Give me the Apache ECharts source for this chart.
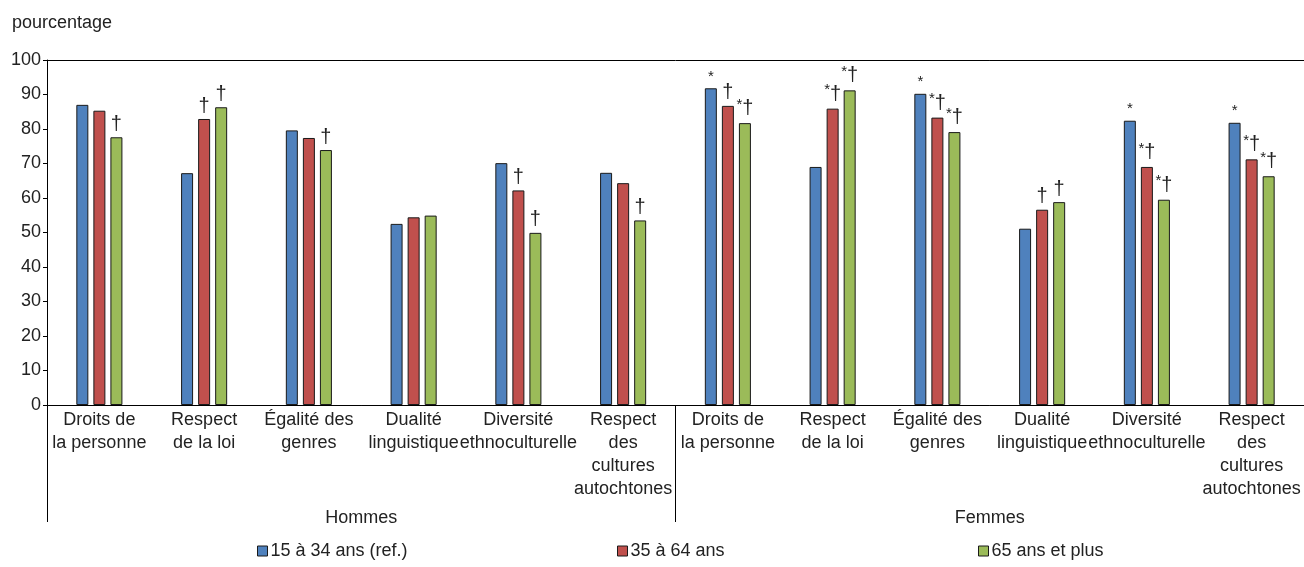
<!DOCTYPE html>
<html>
<head>
<meta charset="utf-8">
<script src="https://cdn.jsdelivr.net/npm/echarts@6/dist/echarts.min.js"></script>
<style>
  html, body { margin: 0; padding: 0; background: #fff; }
  #chart { width: 1304px; height: 567px; }
</style>
</head>
<body>
<div id="chart"></div>
<script>
// thèmes (même liste pour les deux groupes)
var topics = [
  'Droits de\nla personne',
  'Respect\nde la loi',
  'Égalité des\ngenres',
  'Dualité\nlinguistique',
  'Diversité\nethnoculturelle',
  'Respect\ndes\ncultures\nautochtones'
];
var groups = ['Hommes', 'Femmes'];
var seriesNames = ['15 à 34 ans (ref.)', '35 à 64 ans', '65 ans et plus'];

// pourcentages, Hommes puis Femmes
var age15to34 = [87.0, 67.2, 79.6, 52.5, 70.1, 67.3, 91.8, 69.0, 90.2, 51.1, 82.4, 81.8];
var age35to64 = [85.3, 82.9, 77.4, 54.4, 62.2, 64.3, 86.7, 85.9, 83.3, 56.6, 69.0, 71.2];
var age65plus = [77.6, 86.3, 73.9, 54.9, 49.9, 53.5, 81.7, 91.2, 79.1, 58.8, 59.5, 66.3];

// marques de signification
var note15to34 = ['', '', '', '', '', '', '*', '', '*', '', '*', '*'];
var note35to64 = ['', '†', '', '', '†', '', '†', '*†', '*†', '†', '*†', '*†'];
var note65plus = ['†', '†', '†', '', '†', '†', '*†', '*†', '*†', '†', '*†', '*†'];

var yTicks = [0, 100, 10];

var categories = groups.flatMap(function () { return topics; });
var FONT = "'Liberation Sans', Arial, sans-serif";
var colors = ['#4f81bd', '#c0504d', '#9bbb59'];

function noteLabel(notes) {
  return {
    show: true,
    position: 'top',
    distance: 3,
    formatter: function (p) {
      var s = notes[p.dataIndex];
      if (s === '*') return '{so|*}';
      return s.split('').map(function (c) {
        return c === '*' ? '{s|*}' : '{d|†}';
      }).join('');
    },
    rich: {
      so: { fontSize: 15, fontFamily: FONT, color: '#222', padding: [0, 0, 1, 0] },
      s: { fontSize: 15, fontFamily: FONT, color: '#222', verticalAlign: 'top', padding: [0, 0, 8, 0] },
      d: { fontSize: 20, fontFamily: FONT, color: '#222' }
    }
  };
}

function bar(name, values, notes, color) {
  return {
    name: name,
    type: 'bar',
    data: values,
    barWidth: 12,
    barGap: '42%',
    itemStyle: { color: color, borderColor: '#1a1a1a', borderWidth: 1 },
    label: noteLabel(notes)
  };
}

var chart = echarts.init(document.getElementById('chart'));

function legendAt(name, left) {
  return {
    data: [name],
    left: left,
    top: 537,
    itemWidth: 10,
    itemHeight: 10,
    icon: 'rect',
    itemStyle: { borderColor: '#1a1a1a', borderWidth: 1 },
    textStyle: { fontSize: 18, fontFamily: FONT, color: '#222', padding: [0, 0, 0, -2] }
  };
}

chart.setOption({
  animation: false,
  textStyle: { fontFamily: FONT },
  title: {
    text: 'pourcentage',
    left: 7,
    top: 9,
    textStyle: { fontSize: 18, fontWeight: 'normal', fontFamily: FONT, color: '#222' }
  },
  legend: [
    legendAt(seriesNames[0], 252),
    legendAt(seriesNames[1], 612),
    legendAt(seriesNames[2], 973)
  ],
  grid: { left: 47, right: -3, top: 60, bottom: 162 },
  xAxis: [
    {
      type: 'category',
      data: categories,
      axisLine: { lineStyle: { color: '#000', width: 1 } },
      axisTick: { show: false },
      axisLabel: {
        interval: 0,
        margin: 4,
        fontSize: 18,
        lineHeight: 23,
        color: '#222',
        fontFamily: FONT
      }
    },
    {
      type: 'category',
      data: groups,
      position: 'bottom',
      axisLine: { show: false },
      axisTick: { show: true, length: 117, lineStyle: { color: '#000', width: 1 } },
      axisLabel: { margin: 104, fontSize: 18, lineHeight: 18, color: '#222', fontFamily: FONT }
    },
    {
      type: 'category',
      data: categories,
      position: 'top',
      axisLine: { lineStyle: { color: '#000', width: 1 } },
      axisTick: { show: false },
      axisLabel: { show: false }
    }
  ],
  yAxis: {
    type: 'value',
    min: yTicks[0],
    max: yTicks[1],
    interval: yTicks[2],
    axisLine: { show: true, lineStyle: { color: '#000', width: 1 } },
    axisTick: { show: true, length: 4, lineStyle: { color: '#000' } },
    splitLine: { show: false },
    axisLabel: { fontSize: 18, color: '#222', margin: 6, fontFamily: FONT }
  },
  series: [
    bar(seriesNames[0], age15to34, note15to34, colors[0]),
    bar(seriesNames[1], age35to64, note35to64, colors[1]),
    bar(seriesNames[2], age65plus, note65plus, colors[2])
  ]
});
</script>
</body>
</html>
